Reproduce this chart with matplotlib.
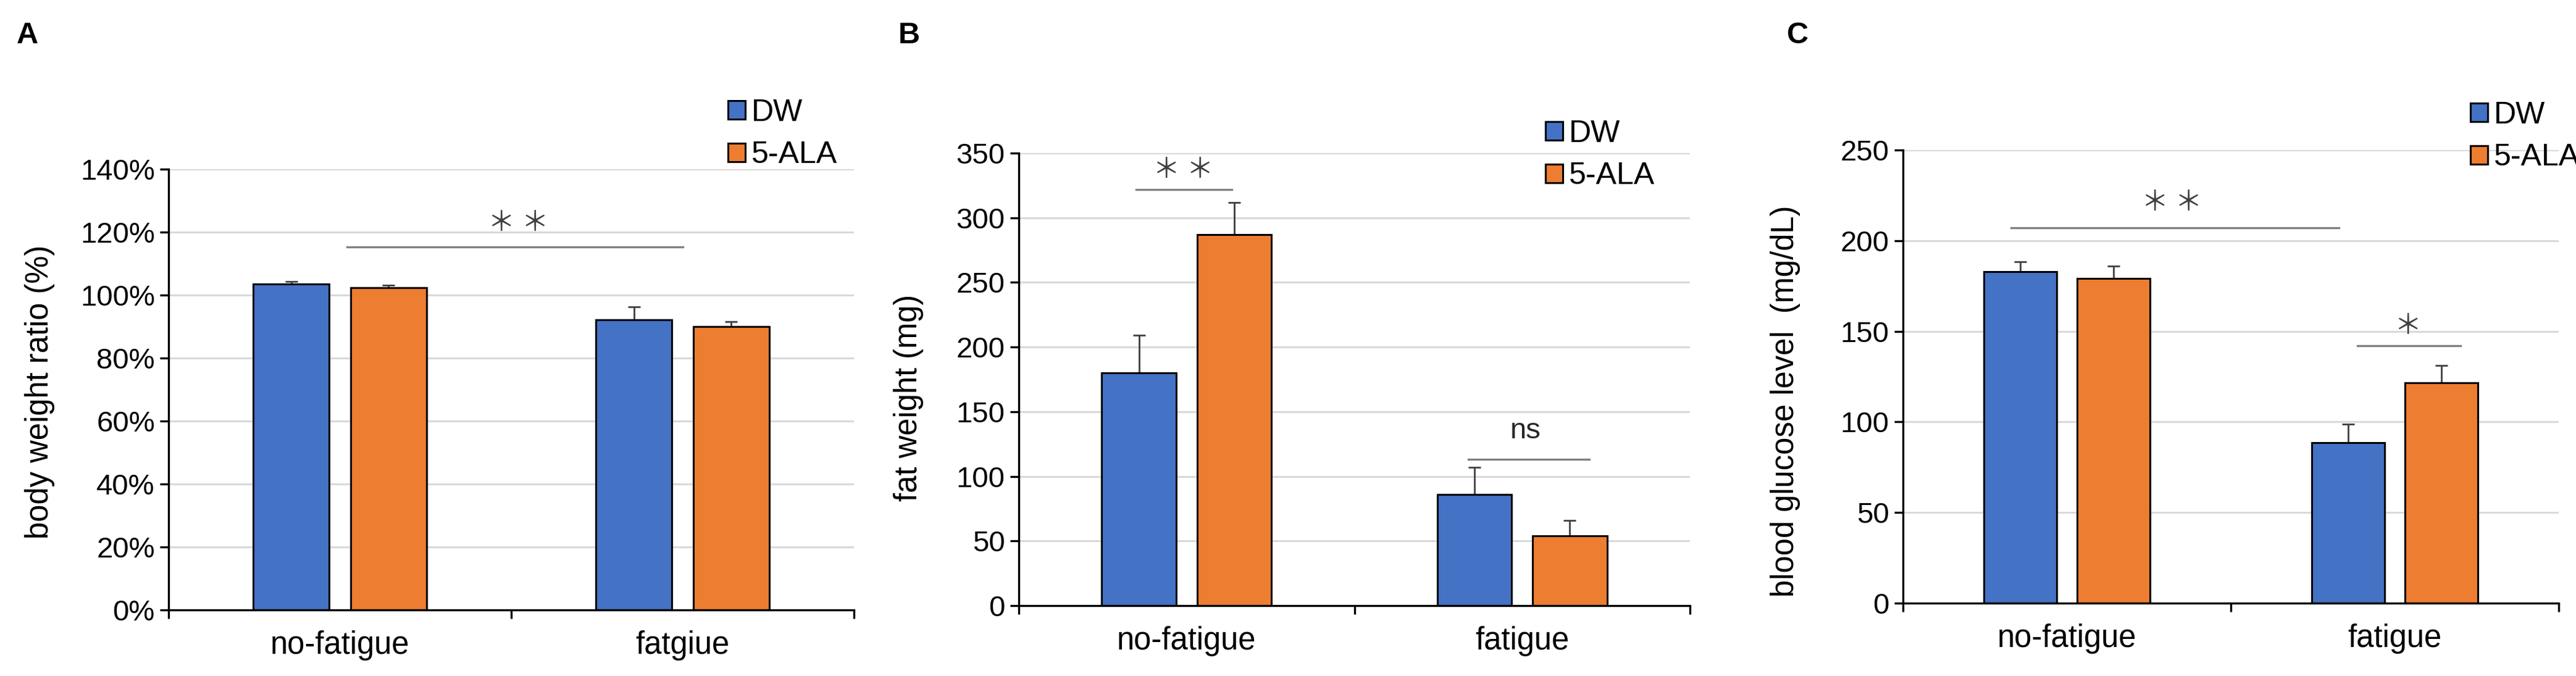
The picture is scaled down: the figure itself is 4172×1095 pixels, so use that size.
import numpy as np
import matplotlib
matplotlib.use("Agg")
import matplotlib.pyplot as plt
from matplotlib.patches import Patch
from matplotlib.ticker import FuncFormatter, FixedLocator

plt.rcParams["font.family"] = ["Liberation Sans", "DejaVu Sans"]

# data
groups = ["DW", "5-ALA"]
cats_a = ["no-fatigue", "fatgiue"]
cats_bc = ["no-fatigue", "fatigue"]

bw_dw = [103.5, 92.2]
bw_dw_err = [0.8, 4.0]
bw_ala = [102.3, 90.0]
bw_ala_err = [0.8, 1.5]

fat_dw = [180, 86]
fat_dw_err = [29, 21]
fat_ala = [287, 54]
fat_ala_err = [25, 12]

glu_dw = [183, 88.6]
glu_dw_err = [5.2, 10.2]
glu_ala = [179, 121.5]
glu_ala_err = [7.0, 9.6]

# significance marks: (x0, x1, y_line, text, x_text, y_text)
sig_a = [(0.02, 1.0, 115.3, "＊ ＊", 0.52, 123)]
sig_b = [(-0.15, 0.135, 322, "＊ ＊", -0.01, 337), (0.84, 1.2, 113, "ns", 1.01, 135)]
sig_c = [(-0.17, 0.83, 207, "＊ ＊", 0.32, 221), (0.886, 1.2, 142, "＊", 1.04, 153)]

blue = "#4472C4"
orange = "#ED7D31"
W, H = 4172, 1095

fig = plt.figure(figsize=(W / 100, H / 100), dpi=100)


def px(l, r, t, b):
    return [l / W, 1 - b / H, (r - l) / W, (b - t) / H]


def panel(rect, cats, dw, dw_err, ala, ala_err, ymax, ystep, pct, sigs):
    ax = fig.add_axes(rect)
    x = np.arange(len(cats))
    off = 0.142
    bw = 0.222
    ax.bar(x - off, dw, bw, color=blue, edgecolor="black", linewidth=2.2, zorder=2)
    ax.bar(x + off, ala, bw, color=orange, edgecolor="black", linewidth=2.2, zorder=2)
    ax.errorbar(x - off, dw, yerr=[np.zeros(len(dw)), dw_err], fmt="none",
                ecolor="#404040", elinewidth=2, capsize=7, capthick=2, zorder=1.5)
    ax.errorbar(x + off, ala, yerr=[np.zeros(len(ala)), ala_err], fmt="none",
                ecolor="#404040", elinewidth=2, capsize=7, capthick=2, zorder=1.5)
    ax.set_xlim(-0.5, len(cats) - 0.5)
    ax.set_ylim(0, ymax)
    ax.set_yticks(np.arange(0, ymax + 1, ystep))
    if pct:
        ax.yaxis.set_major_formatter(FuncFormatter(lambda v, p: f"{v:.0f}%"))
    ax.set_xticks(x)
    ax.set_xticklabels(cats, fontsize=36.5)
    ax.xaxis.set_minor_locator(FixedLocator(np.arange(-0.5, len(cats), 1.0)))
    ax.tick_params(axis="x", which="major", length=0, pad=24)
    ax.tick_params(axis="x", which="minor", length=10, width=2.4, direction="out")
    ax.tick_params(axis="y", length=10, width=2.4, labelsize=34, pad=6)
    for s in ["top", "right"]:
        ax.spines[s].set_visible(False)
    for s in ["left", "bottom"]:
        ax.spines[s].set_linewidth(2.4)
    ax.grid(axis="y", color="#D9D9D9", linewidth=2.2)
    ax.set_axisbelow(True)
    for x0, x1, yl, txt, xt, yt in sigs:
        ax.plot([x0, x1], [yl, yl], color="#808080", linewidth=2.4, zorder=3)
        if txt == "ns":
            ax.text(xt, yt, txt, ha="center", va="center", fontsize=34, color="#262626")
        else:
            ax.text(xt, yt, txt, ha="center", va="center", fontsize=32, color="#404040",
                    family=["Noto Sans CJK JP", "DejaVu Sans"])
    return ax


ax_a = panel(px(273, 1383, 274, 988), cats_a, bw_dw, bw_dw_err, bw_ala, bw_ala_err,
             140, 20, True, sig_a)
ax_b = panel(px(1650, 2737, 248, 981), cats_bc, fat_dw, fat_dw_err, fat_ala, fat_ala_err,
             350, 50, False, sig_b)
ax_c = panel(px(3082, 4144, 243, 977), cats_bc, glu_dw, glu_dw_err, glu_ala, glu_ala_err,
             250, 50, False, sig_c)

handles = [Patch(facecolor=blue, edgecolor="black", linewidth=2.2),
           Patch(facecolor=orange, edgecolor="black", linewidth=2.2)]
for ax, lx, ly in [(ax_a, 1179, 160), (ax_b, 2503, 194), (ax_c, 4001, 164)]:
    ax.legend(handles, groups, loc="upper left", bbox_to_anchor=(lx / W, 1 - ly / H),
              bbox_transform=fig.transFigure, frameon=False, fontsize=36,
              borderpad=0, borderaxespad=0, handlelength=0.55, handleheight=0.55,
              handletextpad=0.2, labelspacing=0.45)

# y labels
fig.text(65 / W, 1 - 635 / H, "body weight ratio (%)", rotation=90, ha="center", va="center", fontsize=36.5)
fig.text(1471 / W, 1 - 644 / H, "fat weight (mg)", rotation=90, ha="center", va="center", fontsize=36.5)
fig.text(2891 / W, 1 - 650 / H, "blood glucose level  (mg/dL)", rotation=90, ha="center", va="center", fontsize=36.5)

# panel letters
for lbl, lx in [("A", 27), ("B", 1455), ("C", 2894)]:
    fig.text(lx / W, 1 - 70 / H, lbl, ha="left", va="baseline", fontsize=35, fontweight="bold")

fig.savefig("out.png", dpi=100)
